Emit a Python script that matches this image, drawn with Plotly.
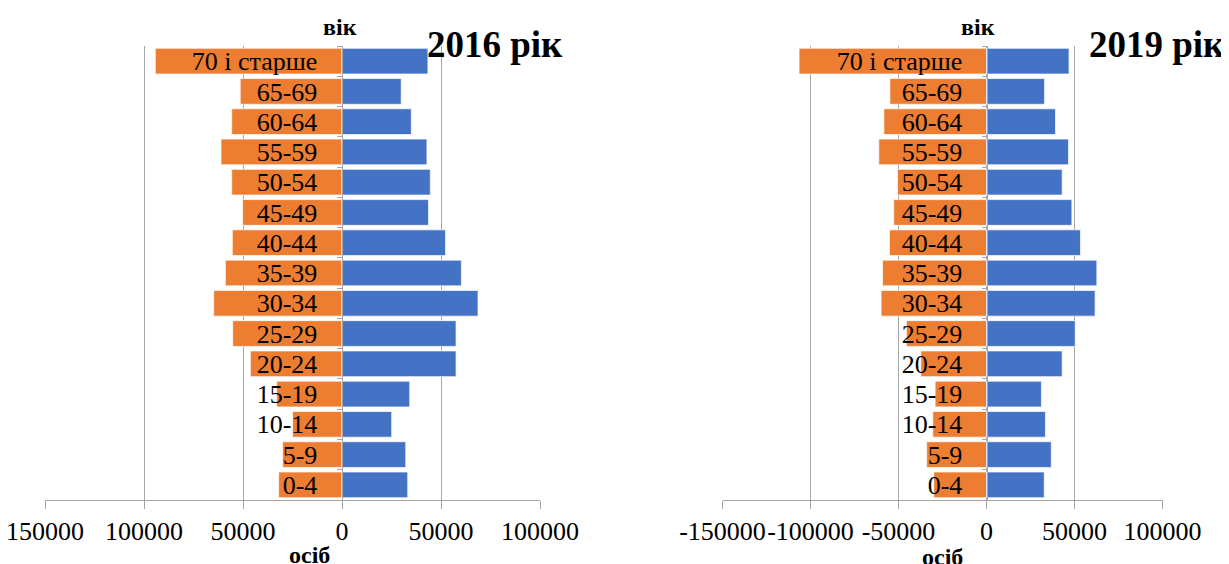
import plotly.graph_objects as go

ages = ["0-4", "5-9", "10-14", "15-19", "20-24", "25-29", "30-34", "35-39",
        "40-44", "45-49", "50-54", "55-59", "60-64", "65-69", "70 і старше"]

orange_2016 = [32000, 30000, 25000, 33000, 46300, 55200, 64800, 58900,
               55400, 50200, 55700, 61100, 55700, 51400, 94300]
blue_2016 = [33200, 32200, 25100, 34200, 57600, 57600, 68700, 60300,
             52300, 43700, 44600, 42900, 35000, 29900, 43400]

orange_2019 = [30000, 34000, 30500, 29200, 37300, 45500, 59900, 59100,
               55100, 52700, 50600, 61200, 58300, 54900, 106500]
blue_2019 = [32800, 36800, 33500, 31200, 43000, 50400, 61700, 62700,
             53400, 48500, 43000, 46600, 39200, 33000, 46900]

tick_vals = [-150000, -100000, -50000, 0, 50000, 100000]
tick_text_2016 = ["150000", "100000", "50000", "0", "50000", "100000"]
tick_text_2019 = ["-150000", "-100000", "-50000", "0", "50000", "100000"]

ORANGE = "#ED7D31"
BLUE = "#4472C4"
GRID = "#A6A6A6"
FONT = "Liberation Serif"

fig = go.Figure()

edge = dict(color="rgba(255,255,255,0.7)", width=1)

fig.add_trace(go.Bar(y=ages, x=[-v for v in orange_2016], orientation="h",
                     marker=dict(color=ORANGE, line=edge), xaxis="x", yaxis="y",
                     showlegend=False))
fig.add_trace(go.Bar(y=ages, x=blue_2016, orientation="h",
                     marker=dict(color=BLUE, line=edge), xaxis="x", yaxis="y",
                     showlegend=False))
fig.add_trace(go.Bar(y=ages, x=[-v for v in orange_2019], orientation="h",
                     marker=dict(color=ORANGE, line=edge), xaxis="x2", yaxis="y2",
                     showlegend=False))
fig.add_trace(go.Bar(y=ages, x=blue_2019, orientation="h",
                     marker=dict(color=BLUE, line=edge), xaxis="x2", yaxis="y2",
                     showlegend=False))

# page body has an 8px default margin: figure sits at (8, 8) in the window
OFF = 8
W, H = 1229 - OFF, 564 - OFF


def px_x(x):
    return (x - OFF) / W


def px_y(y):
    return 1 - (y - OFF) / H


ydom = [px_y(500), px_y(46)]
x1_dom = [px_x(45), px_x(540)]
x2_dom = [px_x(722.5), px_x(1162.5)]
zero1 = px_x(341.5)
zero2 = px_x(986.5)

xcommon = dict(range=[-150000, 100000], tickmode="array", tickvals=tick_vals,
               showgrid=True, gridcolor=GRID, gridwidth=1, zeroline=False,
               showline=True, linecolor=GRID, linewidth=1, ticks="outside",
               ticklen=8, tickcolor=GRID, tickangle=0, automargin=False,
               ticklabeloverflow="allow",
               tickfont=dict(family=FONT, size=26, color="black"),
               fixedrange=True)
ycommon = dict(type="category", categoryorder="array", categoryarray=ages,
               tickmode="array", tickvals=ages, ticktext=ages,
               range=[-0.5, 14.5], showgrid=False, zeroline=False, showline=True,
               linecolor=GRID, linewidth=1, ticks="outside", ticklen=5,
               tickcolor=GRID, tickson="boundaries", ticklabelstandoff=19,
               automargin=False,
               tickfont=dict(family=FONT, size=26, color="black"),
               fixedrange=True)


def ann(text, xpx, ypx, size):
    return dict(text=text, x=px_x(xpx), y=px_y(ypx), xref="paper", yref="paper",
                xanchor="center", yanchor="middle", showarrow=False,
                font=dict(family=FONT, size=size, color="black"))


fig.update_layout(
    width=W, height=H,
    margin=dict(l=0, r=0, t=0, b=0),
    paper_bgcolor="white", plot_bgcolor="white",
    barmode="relative", bargap=0.15,
    xaxis=dict(domain=x1_dom, anchor="y", ticktext=tick_text_2016, **xcommon),
    yaxis=dict(domain=ydom, anchor="free", position=zero1, **ycommon),
    xaxis2=dict(domain=x2_dom, anchor="y2", ticktext=tick_text_2019, **xcommon),
    yaxis2=dict(domain=ydom, anchor="free", position=zero2, **ycommon),
    annotations=[
        ann("<b>вік</b>", 340, 27, 24),
        ann("<b>осіб</b>", 309, 555, 24),
        ann("<b>2016 рік</b>", 495, 44, 37),
        ann("<b>вік</b>", 978, 27, 24),
        ann("<b>осіб</b>", 942, 557, 24),
        ann("<b>2019 рік</b>", 1157, 44, 37),
    ],
)

fig.write_html("out.html")
